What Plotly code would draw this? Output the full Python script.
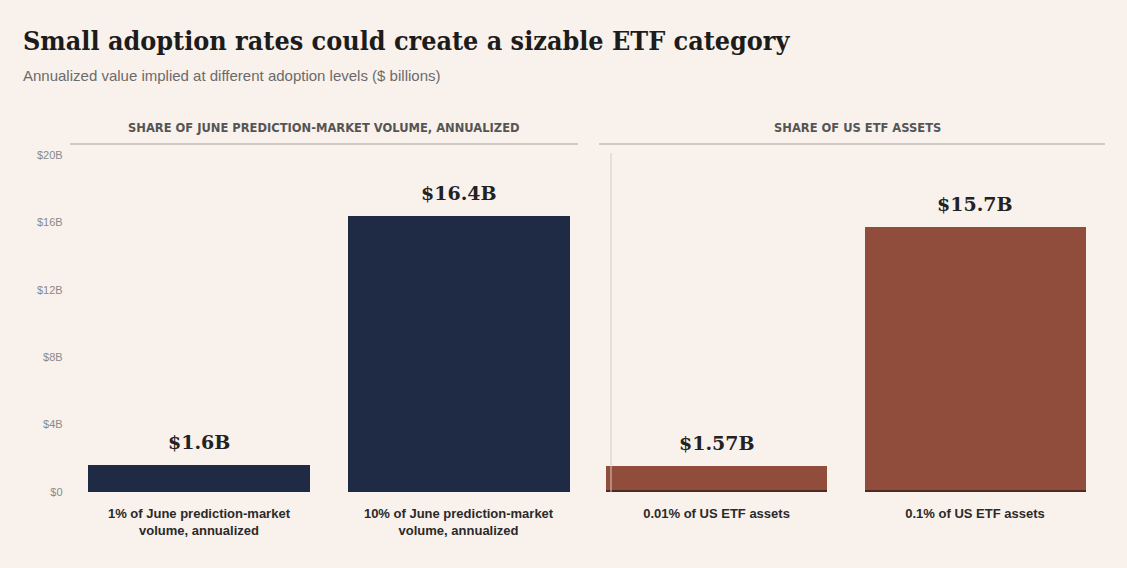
import plotly.graph_objects as go

# ---- data ----
left_categories = ["1% of June prediction-market<br>volume, annualized",
                   "10% of June prediction-market<br>volume, annualized"]
left_values = [1.6, 16.4]
left_labels = ["$1.6B", "$16.4B"]

right_categories = ["0.01% of US ETF assets", "0.1% of US ETF assets"]
right_values = [1.57, 15.7]
right_labels = ["$1.57B", "$15.7B"]

y_tick_values = [0, 4, 8, 12, 16, 20]
y_tick_labels = ["$0", "$4B", "$8B", "$12B", "$16B", "$20B"]

panel_titles = ["SHARE OF JUNE PREDICTION-MARKET VOLUME, ANNUALIZED", "SHARE OF US ETF ASSETS"]

title = "Small adoption rates could create a sizable ETF category"
subtitle = "Annualized value implied at different adoption levels ($ billions)"

# ---- style ----
W, H = 1127, 568
BG = "#f9f1eb"
NAVY = "#1f2a45"
RUST = "#914d3b"
RUST_EDGE = "#4e2a22"
BASE_STROKE = 0.1  # thickness (in axis units) of the dark base stroke under the rust bars
SERIF_TITLE = "DejaVu Serif Condensed, DejaVu Serif, serif"
SERIF = "DejaVu Serif, serif"
SANS = "Liberation Sans, Arial, sans-serif"
SANS_HDR = "DejaVu Sans, sans-serif"

def px_x(p):
    return p / W

def px_y(p):
    return 1 - p / H

fig = go.Figure()

fig.add_trace(go.Bar(x=left_categories, y=left_values, marker_color=NAVY,
                     marker_line_width=0, width=0.855, xaxis="x", yaxis="y",
                     hoverinfo="skip"))
fig.add_trace(go.Bar(x=right_categories, y=right_values, marker_color=RUST,
                     marker_line_width=0, width=0.855, xaxis="x2", yaxis="y2",
                     hoverinfo="skip"))
fig.add_trace(go.Bar(x=right_categories, y=[BASE_STROKE] * len(right_categories),
                     marker_color=RUST_EDGE, marker_line_width=0, width=0.855,
                     xaxis="x2", yaxis="y2", hoverinfo="skip"))

annotations = []
for cats, vals, labs, xr, yr in [(left_categories, left_values, left_labels, "x", "y"),
                                 (right_categories, right_values, right_labels, "x2", "y2")]:
    for c, v, l in zip(cats, vals, labs):
        annotations.append(dict(x=c, y=v, xref=xr, yref=yr, text=f"<b>{l}</b>",
                                showarrow=False, yanchor="bottom", yshift=10,
                                font=dict(family=SERIF, size=19, color="#222222")))

# title & subtitle
annotations.append(dict(x=px_x(21), y=px_y(40), xref="paper", yref="paper",
                        text=f"<b>{title}</b>", showarrow=False, xanchor="left",
                        yanchor="middle",
                        font=dict(family=SERIF_TITLE, size=26.7, color="#1c1c1c")))
annotations.append(dict(x=px_x(21), y=px_y(75), xref="paper", yref="paper",
                        text=subtitle, showarrow=False, xanchor="left", yanchor="middle",
                        font=dict(family=SANS, size=15, color="#6b6b6b")))

# panel headers
header_centers = [324, 857]
for t, cx in zip(panel_titles, header_centers):
    annotations.append(dict(x=px_x(cx), y=px_y(128), xref="paper", yref="paper",
                            text=f"<b>{t}</b>", showarrow=False, xanchor="center",
                            yanchor="middle",
                            font=dict(family=SANS_HDR, size=11.5, color="#555555")))

shapes = [
    dict(type="line", xref="paper", yref="paper", x0=px_x(70), x1=px_x(578),
         y0=px_y(144), y1=px_y(144), line=dict(color="#c4bcb6", width=1.5)),
    dict(type="line", xref="paper", yref="paper", x0=px_x(599), x1=px_x(1105),
         y0=px_y(144), y1=px_y(144), line=dict(color="#c4bcb6", width=1.5)),
    dict(type="line", xref="paper", yref="paper", x0=px_x(611), x1=px_x(611),
         y0=px_y(153), y1=px_y(492), line=dict(color="#d6ccc6", width=1), layer="above"),
]

y_domain = [px_y(492), px_y(155)]

fig.update_layout(
    width=W, height=H,
    margin=dict(l=0, r=0, t=0, b=0, pad=0, autoexpand=False),
    paper_bgcolor=BG, plot_bgcolor=BG,
    showlegend=False,
    barmode="overlay",
    bargap=0,
    annotations=annotations,
    shapes=shapes,
    xaxis=dict(domain=[px_x(67.6), px_x(586)], range=[-0.506, 1.491],
               showgrid=False, zeroline=False, showline=False, ticks="",
               tickfont=dict(family=SANS, size=13, color="#2a2a2a", weight="bold"),
               ticklabelstandoff=12, automargin=False, fixedrange=True),
    xaxis2=dict(domain=[px_x(594), px_x(1104.5)], range=[-0.474, 1.501],
                showgrid=False, zeroline=False, showline=False, ticks="",
                tickfont=dict(family=SANS, size=13, color="#2a2a2a", weight="bold"),
                ticklabelstandoff=12, anchor="y2", automargin=False, fixedrange=True),
    yaxis=dict(domain=y_domain, range=[0, 20], tickvals=y_tick_values,
               ticktext=y_tick_labels, showgrid=False, zeroline=False,
               showline=False, ticks="", ticklabelstandoff=4, automargin=False,
               tickfont=dict(family=SANS, size=11, color="#8a8a8a"), fixedrange=True),
    yaxis2=dict(domain=y_domain, range=[0, 20], anchor="x2", matches="y",
                showgrid=False, zeroline=False, showline=False, showticklabels=False,
                ticks="", automargin=False, fixedrange=True),
)

fig.write_html("out.html")
